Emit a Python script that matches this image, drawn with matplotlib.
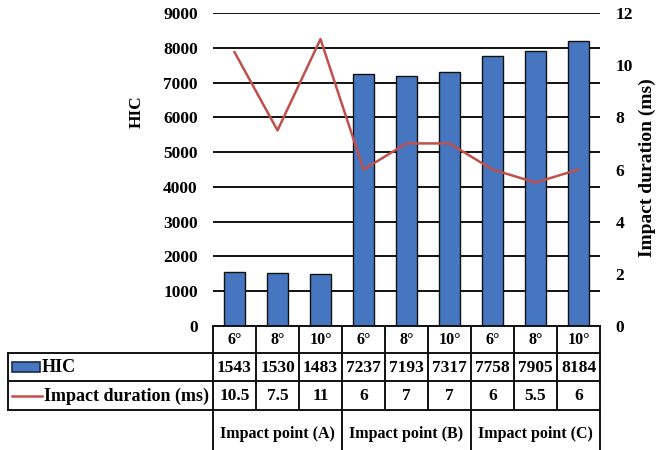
import matplotlib
matplotlib.use('Agg')
import matplotlib.pyplot as plt
from matplotlib.patches import Rectangle

# data
angles = ['6°', '8°', '10°', '6°', '8°', '10°', '6°', '8°', '10°']
hic = [1543, 1530, 1483, 7237, 7193, 7317, 7758, 7905, 8184]
duration = [10.5, 7.5, 11, 6, 7, 7, 6, 5.5, 6]
groups = ['Impact point (A)', 'Impact point (B)', 'Impact point (C)']
hic_ticks = list(range(0, 9001, 1000))
dur_ticks = list(range(0, 13, 2))

BLUE = '#4676C0'
RED = '#C0504D'

plt.rcParams['font.family'] = ['Liberation Serif', 'DejaVu Serif']
plt.rcParams['font.weight'] = 'bold'

W, H = 656, 450
fig = plt.figure(figsize=(W / 100, H / 100), dpi=100)

# main chart area (pixel layout of the reference)
left, right, top, bottom = 213, 600, 13, 326
ax = fig.add_axes([left / W, 1 - bottom / H, (right - left) / W, (bottom - top) / H])
x = list(range(len(hic)))
ax.set_axisbelow(True)
ax.grid(axis='y', color='#111111', lw=1.4)
ax.bar(x, hic, width=0.5, color=BLUE, edgecolor='#111111', lw=1.0, zorder=2)
ax.set_xlim(-0.5, len(hic) - 0.5)
ax.set_ylim(0, 9000)
ax.set_yticks(hic_ticks)
ax.set_xticks([])
for s in ax.spines.values():
    s.set_visible(False)
ax.tick_params(axis='y', length=0, pad=11, labelsize=12.5)

ax2 = ax.twinx()
ax2.plot(x, duration, color=RED, lw=1.8)
ax2.set_ylim(0, 12)
ax2.set_yticks(dur_ticks)
for s in ax2.spines.values():
    s.set_visible(False)
ax2.tick_params(axis='y', length=0, pad=11, labelsize=12.5)

fig.text(137 / W, 1 - 112 / H, 'HIC', rotation=90, ha='center', va='center',
         fontsize=12.5, fontweight='bold')
fig.text(647 / W, 1 - 168 / H, 'Impact duration (ms)', rotation=90, ha='center',
         va='center', fontsize=14, fontweight='bold')

# data table under the chart (pixel coordinates, y measured from top)
tax = fig.add_axes([0, 0, 1, (H - bottom) / H])
tax.set_xlim(0, W)
tax.set_ylim(H, bottom)
tax.axis('off')
n = len(hic)
col_w = (right - left) / n
edges = [left + col_w * k for k in range(n + 1)]
rows = [326, 353, 381, 410, 470]
lab_l = 8
lk = dict(color='#111111', lw=1.4, clip_on=False)

tax.plot([left, right], [rows[0], rows[0]], **lk)
for r in rows[1:4]:
    tax.plot([lab_l, right], [r, r], **lk)
for e in edges:
    tax.plot([e, e], [rows[0], rows[3]], **lk)
tax.plot([lab_l, lab_l], [rows[1], rows[3]], **lk)
for k in range(0, n + 1, 3):
    tax.plot([edges[k], edges[k]], [rows[3], rows[4]], **lk)

for k in range(n):
    cx = (edges[k] + edges[k + 1]) / 2
    tax.text(cx, 340, angles[k], ha='center', va='center', fontsize=11.5)
    tax.text(cx, 367.5, str(hic[k]), ha='center', va='center', fontsize=12.5)
    tax.text(cx, 396, f'{duration[k]:g}', ha='center', va='center', fontsize=12.5)
for g, name in enumerate(groups):
    cx = (edges[3 * g] + edges[3 * g + 3]) / 2
    tax.text(cx, 434, name, ha='center', va='center', fontsize=11.5)

# legend keys in the label column
tax.add_patch(Rectangle((12, 362), 28, 10, facecolor=BLUE, edgecolor='#1a2a50', lw=1.2))
tax.text(42, 367.5, 'HIC', ha='left', va='center', fontsize=13)
tax.plot([12, 42], [396, 396], color=RED, lw=1.8)
tax.text(44, 396, 'Impact duration (ms)', ha='left', va='center', fontsize=13)

fig.savefig('out.png', dpi=100)
